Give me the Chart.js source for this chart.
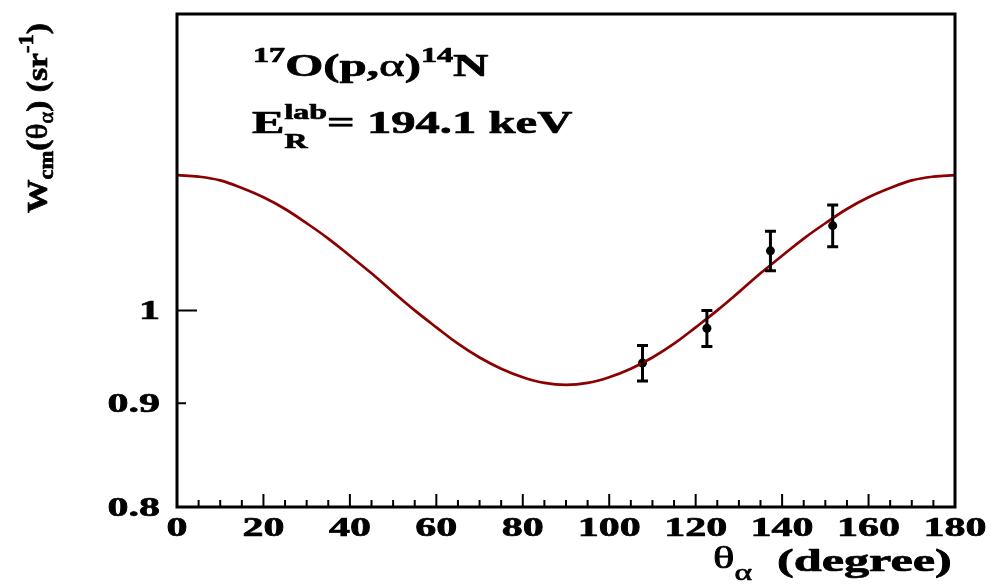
<!DOCTYPE html>
<html>
<head>
<meta charset="utf-8">
<script src="https://cdn.jsdelivr.net/npm/chart.js@4.4.1/dist/chart.umd.min.js"></script>
<style>
  html, body { margin: 0; padding: 0; background: #fff; }
  #wrap { width: 991px; height: 586px; }
</style>
</head>
<body>
<div id="wrap"><canvas id="chart" width="991" height="586"></canvas></div>
<script>
// fitted angular distribution, every 5 degrees
const curveAngles = [0, 5, 10, 15, 20, 25, 30, 35, 40, 45, 50, 55, 60, 65, 70, 75, 80, 85, 90,
  95, 100, 105, 110, 115, 120, 125, 130, 135, 140, 145, 150, 155, 160, 165, 170, 175, 180];
const curveW = [1.166, 1.164, 1.159, 1.149, 1.137, 1.122, 1.104, 1.085, 1.064, 1.043, 1.021, 1.000,
  0.981, 0.963, 0.948, 0.936, 0.927, 0.921, 0.919,
  0.921, 0.927, 0.936, 0.948, 0.963, 0.981, 1.000, 1.021, 1.043, 1.064, 1.085, 1.104, 1.122,
  1.137, 1.149, 1.159, 1.164, 1.166];

// measured points
const dataAngles = [107.7, 122.6, 137.3, 151.7];
const dataW = [0.942, 0.980, 1.070, 1.101];
const dataErr = [0.019, 0.020, 0.024, 0.026];

const xTickLabels = [0, 20, 40, 60, 80, 100, 120, 140, 160, 180];
const yTickLabels = [0.8, 0.9, 1];

const SERIF = '"Liberation Serif", "Times New Roman", serif';

// draw a run of text pieces, stretched horizontally like the original figure
function rich(ctx, x, y, sx, parts) {
  ctx.save();
  ctx.translate(x, y);
  ctx.scale(sx, 1);
  ctx.textBaseline = 'alphabetic';
  ctx.textAlign = 'left';
  ctx.lineWidth = 0.7;
  ctx.lineJoin = 'round';
  let cx = 0;
  let stackW = 0;
  parts.forEach(p => {
    ctx.font = p.f;
    ctx.fillText(p.t, cx, p.dy || 0);
    ctx.strokeText(p.t, cx, p.dy || 0);
    const w = ctx.measureText(p.t).width;
    if (p.stack) {
      stackW = Math.max(stackW, w);
    } else {
      cx += Math.max(w, stackW) + (p.gap || 0);
      stackW = 0;
    }
  });
  ctx.restore();
}

const errorBars = {
  id: 'errorBars',
  afterDatasetsDraw(chart) {
    const ctx = chart.ctx;
    const xs = chart.scales.x, ys = chart.scales.y;
    ctx.save();
    ctx.strokeStyle = '#000';
    ctx.lineWidth = 3;
    dataAngles.forEach((a, i) => {
      const px = xs.getPixelForValue(a);
      const top = ys.getPixelForValue(dataW[i] + dataErr[i]);
      const bot = ys.getPixelForValue(dataW[i] - dataErr[i]);
      ctx.beginPath();
      ctx.moveTo(px, top); ctx.lineTo(px, bot);
      ctx.moveTo(px - 5.5, top); ctx.lineTo(px + 5.5, top);
      ctx.moveTo(px - 5.5, bot); ctx.lineTo(px + 5.5, bot);
      ctx.stroke();
    });
    ctx.restore();
  }
};

const frameAndText = {
  id: 'frameAndText',
  afterDraw(chart) {
    const ctx = chart.ctx;
    const a = chart.chartArea;
    const xs = chart.scales.x, ys = chart.scales.y;
    ctx.save();
    ctx.strokeStyle = '#000';
    ctx.fillStyle = '#000';

    // inward ticks
    ctx.lineWidth = 2;
    ctx.beginPath();
    for (let v = 0; v <= 180; v += 5) {
      const px = xs.getPixelForValue(v);
      const len = v % 20 === 0 ? 13 : 7;
      ctx.moveTo(px, a.bottom); ctx.lineTo(px, a.bottom - len);
    }
    [[0.9, 9], [1, 20]].forEach(([v, len]) => {
      const py = ys.getPixelForValue(v);
      ctx.moveTo(a.left, py); ctx.lineTo(a.left + len, py);
    });
    ctx.stroke();

    // frame
    ctx.lineWidth = 3;
    ctx.strokeRect(a.left, a.top, a.right - a.left, a.bottom - a.top);

    // tick labels
    const tickFont = 'bold 28px ' + SERIF;
    xTickLabels.forEach(v => {
      const s = String(v);
      ctx.font = tickFont;
      const w = ctx.measureText(s).width * 1.5;
      rich(ctx, xs.getPixelForValue(v) - w / 2, a.bottom + 29, 1.5, [{ t: s, f: tickFont }]);
    });
    yTickLabels.forEach(v => {
      const s = String(v);
      ctx.font = tickFont;
      const w = ctx.measureText(s).width * 1.5;
      rich(ctx, a.left - 17 - w, ys.getPixelForValue(v) + 9, 1.5, [{ t: s, f: tickFont }]);
    });

    // x title
    rich(ctx, 713, 568, 1.4, [
      { t: 'θ', f: '32px ' + SERIF },
      { t: 'α', f: '24px ' + SERIF, dy: 12 }
    ]);
    rich(ctx, 777, 571, 1.62, [
      { t: '(degree)', f: 'bold 31px ' + SERIF }
    ]);

    // y title, rotated
    ctx.save();
    ctx.translate(47, 213);
    ctx.rotate(-Math.PI / 2);
    rich(ctx, 0, 0, 1.12, [
      { t: 'W', f: 'bold 30px ' + SERIF },
      { t: 'cm', f: 'bold 20px ' + SERIF, dy: 6 },
      { t: '(', f: 'bold 30px ' + SERIF },
      { t: 'θ', f: '30px ' + SERIF },
      { t: 'α', f: '20px ' + SERIF, dy: 6 },
      { t: ') (sr', f: 'bold 30px ' + SERIF },
      { t: '-1', f: 'bold 20px ' + SERIF, dy: -14 },
      { t: ')', f: 'bold 30px ' + SERIF }
    ]);
    ctx.restore();

    // reaction label
    rich(ctx, 253, 76, 1.53, [
      { t: '17', f: 'bold 21px ' + SERIF, dy: -14 },
      { t: 'O(p,', f: 'bold 32px ' + SERIF },
      { t: 'α', f: '32px ' + SERIF },
      { t: ')', f: 'bold 32px ' + SERIF },
      { t: '14', f: 'bold 21px ' + SERIF, dy: -14 },
      { t: 'N', f: 'bold 32px ' + SERIF }
    ]);
    rich(ctx, 252, 133, 1.52, [
      { t: 'E', f: 'bold 32px ' + SERIF },
      { t: 'R', f: 'bold 21px ' + SERIF, dy: 15, stack: true },
      { t: 'lab', f: 'bold 21px ' + SERIF, dy: -14 },
      { t: '= 194.1 keV', f: 'bold 32px ' + SERIF }
    ]);

    ctx.restore();
  }
};

new Chart(document.getElementById('chart'), {
  type: 'line',
  data: {
    datasets: [{
      label: 'fit',
      data: curveAngles.map((a, i) => ({ x: a, y: curveW[i] })),
      borderColor: '#8b0000',
      borderWidth: 2.7,
      pointRadius: 0,
      fill: false,
      tension: 0.4
    }, {
      label: 'data',
      data: dataAngles.map((a, i) => ({ x: a, y: dataW[i] })),
      showLine: false,
      pointRadius: 4.5,
      pointBackgroundColor: '#000',
      pointBorderColor: '#000',
      pointBorderWidth: 0
    }]
  },
  options: {
    responsive: false,
    animation: false,
    events: [],
    layout: { padding: { left: 177, right: 36, top: 14, bottom: 79 } },
    plugins: { legend: { display: false }, tooltip: { enabled: false } },
    scales: {
      x: { type: 'linear', min: 0, max: 180, display: false },
      y: { type: 'logarithmic', min: 0.8, max: 1.4, display: false }
    }
  },
  plugins: [errorBars, frameAndText]
});
</script>
</body>
</html>
